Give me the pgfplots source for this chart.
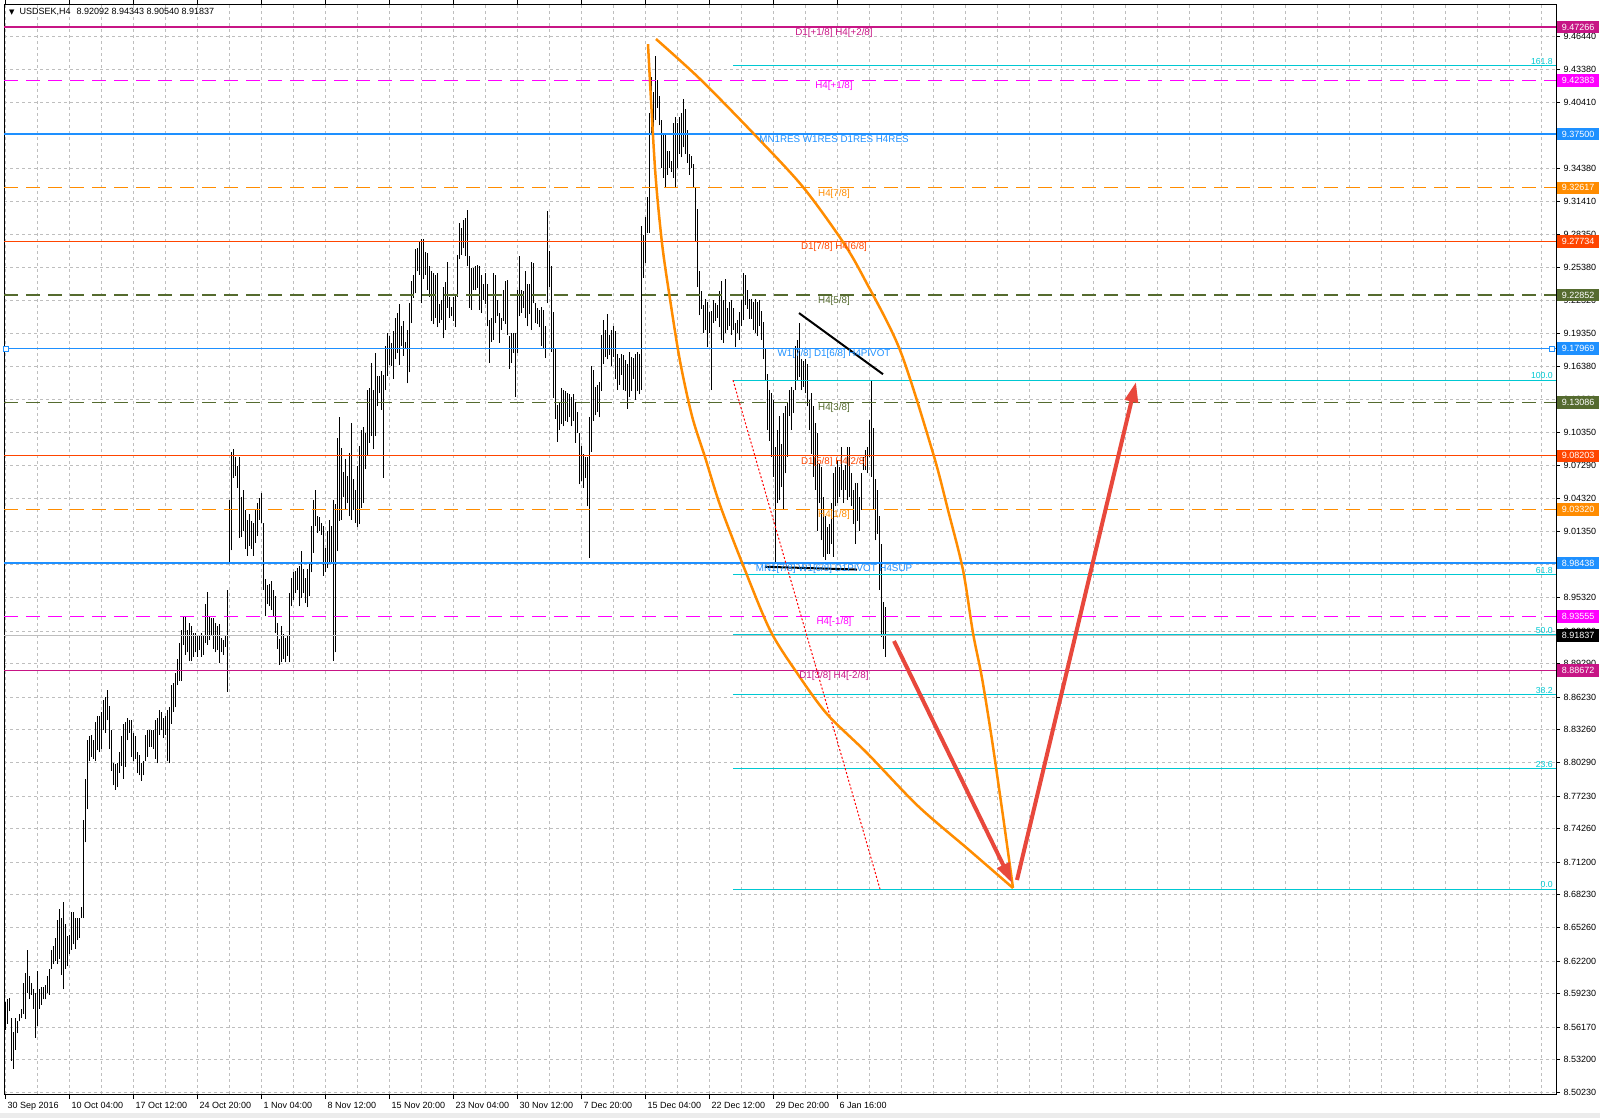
\documentclass[border=0pt]{standalone}
\usepackage{fontspec}
\setmainfont{Liberation Sans}
\newfontfamily\symfont{DejaVu Sans}
\usepackage{pgfplots}
\usepackage{pgfplotstable}
\pgfplotsset{compat=1.18}
\usetikzlibrary{arrows.meta}

\definecolor{mvred}{RGB}{199,21,133}
\definecolor{magen}{RGB}{255,0,255}
\definecolor{dblue}{RGB}{30,144,255}
\definecolor{dorange}{RGB}{255,140,0}
\definecolor{ored}{RGB}{255,69,0}
\definecolor{olivec}{RGB}{85,107,47}
\definecolor{fibc}{RGB}{0,200,210}
\definecolor{arrowred}{RGB}{232,72,60}
\definecolor{gridc}{RGB}{190,190,190}

\tikzset{
  lvl/.style={anchor=north, inner sep=1bp, font=\fontsize{9.8bp}{11bp}\selectfont},
  fibl/.style={anchor=south east, inner sep=1bp, text=fibc, font=\fontsize{8.7bp}{10bp}\selectfont},
  pbox/.style={anchor=west, xshift=1bp, inner sep=0, minimum width=42bp, minimum height=12.5bp,
    text=white, font=\fontsize{9bp}{10bp}\selectfont},
}

% H4 bars: x position (px column), low, high
\pgfplotstableread{
x lo hi
5 8.559 8.585
7 8.565 8.587
9 8.576 8.588
11 8.531 8.570
13 8.524 8.557
15 8.541 8.570
17 8.556 8.567
19 8.567 8.574
21 8.570 8.578
23 8.574 8.602
25 8.569 8.611
27 8.593 8.632
29 8.587 8.608
31 8.591 8.602
33 8.578 8.596
35 8.552 8.593
37 8.563 8.613
39 8.578 8.596
41 8.582 8.598
43 8.587 8.598
45 8.587 8.600
47 8.593 8.608
49 8.591 8.615
51 8.615 8.632
53 8.619 8.636
55 8.622 8.643
57 8.619 8.659
59 8.624 8.669
61 8.609 8.661
63 8.596 8.676
65 8.615 8.656
67 8.617 8.645
69 8.628 8.646
71 8.632 8.667
73 8.637 8.667
75 8.633 8.661
77 8.641 8.661
79 8.643 8.661
81 8.661 8.671
83 8.661 8.750
85 8.730 8.788
87 8.760 8.823
89 8.804 8.827
91 8.808 8.828
93 8.806 8.823
95 8.804 8.840
97 8.814 8.845
99 8.812 8.845
101 8.815 8.849
103 8.832 8.860
105 8.830 8.862
107 8.841 8.869
109 8.815 8.854
111 8.795 8.832
113 8.782 8.802
115 8.778 8.801
117 8.780 8.802
119 8.793 8.812
121 8.800 8.827
123 8.788 8.838
125 8.799 8.840
127 8.823 8.843
129 8.830 8.841
131 8.808 8.841
133 8.804 8.830
135 8.806 8.827
137 8.793 8.812
139 8.791 8.810
141 8.786 8.802
143 8.791 8.804
145 8.804 8.828
147 8.808 8.832
149 8.817 8.832
151 8.817 8.832
153 8.815 8.832
155 8.806 8.841
157 8.802 8.843
159 8.828 8.851
161 8.832 8.849
163 8.825 8.843
165 8.828 8.845
167 8.804 8.851
169 8.802 8.853
171 8.838 8.873
173 8.849 8.875
175 8.853 8.884
177 8.873 8.897
179 8.877 8.912
181 8.877 8.923
183 8.910 8.936
185 8.901 8.936
187 8.903 8.923
189 8.895 8.930
191 8.895 8.927
193 8.899 8.921
195 8.903 8.921
197 8.899 8.919
199 8.905 8.918
201 8.899 8.921
203 8.901 8.918
205 8.912 8.947
207 8.910 8.958
209 8.914 8.936
211 8.918 8.934
213 8.906 8.934
215 8.903 8.930
217 8.905 8.927
219 8.893 8.929
221 8.903 8.916
223 8.901 8.914
225 8.908 8.919
227 8.867 8.960
229 8.984 9.042
231 8.996 9.086
233 9.062 9.088
235 9.064 9.081
237 9.053 9.073
239 9.007 9.081
241 9.008 9.045
243 9.014 9.051
245 8.997 9.033
247 8.991 9.024
249 9.000 9.029
251 8.997 9.023
253 8.991 9.021
255 9.003 9.033
257 9.009 9.039
259 9.024 9.044
261 9.021 9.048
263 8.960 9.021
265 8.936 8.970
267 8.947 8.964
269 8.945 8.965
271 8.942 8.968
273 8.936 8.960
275 8.921 8.954
277 8.906 8.930
279 8.892 8.915
281 8.894 8.927
283 8.897 8.920
285 8.894 8.916
287 8.900 8.918
289 8.894 8.957
291 8.945 8.971
293 8.951 8.976
295 8.957 8.977
297 8.960 8.980
299 8.945 8.982
301 8.953 8.995
303 8.957 8.979
305 8.948 8.971
307 8.944 8.979
309 8.954 8.985
311 8.976 9.018
313 8.994 9.042
315 9.018 9.051
317 9.012 9.027
319 9.014 9.026
321 9.010 9.021
323 8.973 9.018
325 8.976 8.998
327 8.980 9.014
329 8.985 9.024
331 8.985 9.018
333 8.895 9.042
335 8.903 9.038
337 8.995 9.098
339 9.023 9.117
341 9.024 9.089
343 9.045 9.067
345 9.033 9.079
347 9.039 9.064
349 9.027 9.085
351 9.024 9.112
353 9.033 9.061
355 9.021 9.051
357 9.017 9.073
359 9.020 9.091
361 9.035 9.106
363 9.039 9.108
365 9.070 9.103
367 9.082 9.142
369 9.094 9.144
371 9.100 9.167
373 9.088 9.142
375 9.100 9.176
377 9.127 9.155
379 9.139 9.155
381 9.124 9.159
383 9.062 9.156
385 9.142 9.182
387 9.155 9.194
389 9.165 9.191
391 9.164 9.185
393 9.152 9.196
395 9.170 9.208
397 9.176 9.212
399 9.165 9.220
401 9.182 9.200
403 9.173 9.205
405 9.179 9.186
407 9.148 9.197
409 9.158 9.221
411 9.203 9.241
413 9.226 9.247
415 9.230 9.270
417 9.250 9.271
419 9.247 9.277
421 9.221 9.280
423 9.243 9.280
425 9.247 9.268
427 9.233 9.267
429 9.227 9.255
431 9.205 9.250
433 9.202 9.249
435 9.208 9.247
437 9.199 9.249
439 9.203 9.220
441 9.206 9.224
443 9.189 9.236
445 9.197 9.240
447 9.217 9.259
449 9.208 9.227
451 9.209 9.218
453 9.205 9.227
455 9.199 9.229
457 9.227 9.265
459 9.261 9.294
461 9.265 9.290
463 9.271 9.297
465 9.264 9.299
467 9.255 9.306
469 9.217 9.264
471 9.215 9.253
473 9.233 9.253
475 9.233 9.255
477 9.235 9.256
479 9.215 9.255
481 9.212 9.247
483 9.224 9.239
485 9.220 9.249
487 9.200 9.239
489 9.167 9.206
491 9.186 9.208
493 9.188 9.249
495 9.203 9.247
497 9.209 9.224
499 9.185 9.212
501 9.197 9.208
503 9.205 9.233
505 9.202 9.241
507 9.192 9.242
509 9.161 9.191
511 9.167 9.194
513 9.176 9.194
515 9.136 9.194
517 9.176 9.233
519 9.209 9.264
521 9.212 9.233
523 9.217 9.232
525 9.208 9.250
527 9.200 9.239
529 9.211 9.239
531 9.197 9.259
533 9.221 9.258
535 9.203 9.221
537 9.202 9.217
539 9.199 9.215
541 9.182 9.218
543 9.179 9.215
545 9.171 9.200
547 9.221 9.305
549 9.236 9.269
551 9.177 9.255
553 9.135 9.213
555 9.116 9.180
557 9.095 9.128
559 9.106 9.131
561 9.111 9.144
563 9.109 9.142
565 9.114 9.141
567 9.113 9.139
569 9.117 9.138
571 9.109 9.136
573 9.114 9.138
575 9.094 9.131
577 9.103 9.122
579 9.056 9.103
581 9.059 9.091
583 9.053 9.084
585 9.062 9.081
587 9.036 9.081
589 8.989 9.117
591 9.086 9.164
593 9.114 9.160
595 9.119 9.145
597 9.122 9.147
599 9.117 9.149
601 9.141 9.192
603 9.166 9.206
605 9.172 9.197
607 9.170 9.211
609 9.174 9.192
611 9.164 9.197
613 9.172 9.200
615 9.152 9.196
617 9.142 9.175
619 9.147 9.171
621 9.156 9.175
623 9.142 9.174
625 9.141 9.169
627 9.125 9.166
629 9.136 9.177
631 9.141 9.172
633 9.152 9.171
635 9.133 9.175
637 9.141 9.177
639 9.138 9.175
641 9.142 9.291
643 9.244 9.283
645 9.258 9.300
647 9.285 9.318
649 9.285 9.394
651 9.376 9.427
653 9.382 9.413
655 9.388 9.446
657 9.399 9.424
659 9.383 9.410
661 9.344 9.388
663 9.335 9.376
665 9.326 9.376
667 9.338 9.360
669 9.344 9.360
671 9.341 9.351
673 9.335 9.385
675 9.326 9.391
677 9.344 9.385
679 9.357 9.391
681 9.354 9.394
683 9.363 9.407
685 9.357 9.398
687 9.349 9.379
689 9.338 9.357
691 9.344 9.355
693 9.327 9.348
695 9.277 9.327
697 9.236 9.307
699 9.210 9.250
701 9.216 9.232
703 9.194 9.219
705 9.197 9.225
707 9.181 9.222
709 9.194 9.213
711 9.142 9.214
713 9.203 9.224
715 9.205 9.221
717 9.208 9.219
719 9.199 9.232
721 9.188 9.241
723 9.185 9.224
725 9.194 9.243
727 9.197 9.217
729 9.200 9.222
731 9.192 9.224
733 9.197 9.217
735 9.181 9.203
737 9.194 9.206
739 9.188 9.213
741 9.200 9.224
743 9.206 9.249
745 9.219 9.247
747 9.216 9.233
749 9.207 9.225
751 9.207 9.225
753 9.197 9.222
755 9.194 9.225
757 9.191 9.222
759 9.200 9.224
761 9.188 9.214
763 9.170 9.204
765 9.150 9.179
767 9.106 9.157
769 9.096 9.142
771 9.081 9.139
773 9.063 9.133
775 8.984 9.090
777 9.039 9.106
779 9.042 9.118
781 9.054 9.093
783 9.033 9.121
785 9.066 9.127
787 9.081 9.130
789 9.118 9.142
791 9.106 9.145
793 9.121 9.142
795 9.142 9.182
797 9.151 9.188
799 9.154 9.203
801 9.142 9.170
803 9.145 9.168
805 9.139 9.170
807 9.127 9.166
809 9.106 9.133
811 9.084 9.139
813 9.063 9.127
815 9.051 9.112
817 9.014 9.103
819 9.039 9.075
821 9.005 9.072
823 8.990 9.045
825 8.987 9.027
827 8.993 9.017
829 8.993 9.020
831 9.002 9.039
833 8.990 9.066
835 9.036 9.072
837 9.039 9.078
839 9.045 9.072
841 9.051 9.090
843 9.039 9.069
845 9.051 9.074
847 9.042 9.090
849 9.045 9.090
851 9.036 9.066
853 9.020 9.051
855 9.002 9.057
857 9.023 9.057
859 9.014 9.045
861 9.033 9.066
863 9.069 9.081
865 9.069 9.087
867 9.066 9.090
869 9.081 9.115
871 9.063 9.151
873 9.033 9.107
875 9.005 9.061
877 9.011 9.051
879 8.960 9.027
881 8.917 9.002
883 8.906 8.949
885 8.899 8.944
}\bars

\begin{document}
\begin{tikzpicture}
\begin{axis}[
  scale only axis, width=1552bp, height=1090bp,
  xmin=4, xmax=1556, ymin=8.5008, ymax=9.4936,
  axis line style={black, line width=1bp},
  xtick={5,37,...,1541}, xticklabels={},
  xtick style={draw=none},
  ytick={9.4644,9.4338,9.4041,9.3744,9.3438,9.3141,9.2835,9.2538,9.2232,9.1935,9.1638,9.1332,9.1035,9.0729,9.0432,9.0135,8.9829,8.9532,8.9226,8.8929,8.8623,8.8326,8.8029,8.7723,8.7426,8.7120,8.6823,8.6526,8.6220,8.5923,8.5617,8.5320,8.5023},
  yticklabels={9.46440,9.43380,9.40410,9.37440,9.34380,9.31410,9.28350,9.25380,9.22320,9.19350,9.16380,9.13320,9.10350,9.07290,9.04320,9.01350,8.98290,8.95320,8.92260,8.89290,8.86230,8.83260,8.80290,8.77230,8.74260,8.71200,8.68230,8.65260,8.62200,8.59230,8.56170,8.53200,8.50230},
  ytick pos=right, yticklabel pos=right,
  ytick style={black, line width=0.8bp},
  major tick length=4bp, tick align=outside,
  grid=major,
  grid style={gridc, dash pattern=on 3bp off 3bp, line width=0.8bp},
  tick label style={font=\fontsize{9bp}{10bp}\selectfont},
  extra x ticks={5,69,...,837},
  extra x tick labels={30 Sep 2016,10 Oct 04:00,17 Oct 12:00,24 Oct 20:00,1 Nov 04:00,8 Nov 12:00,15 Nov 20:00,23 Nov 04:00,30 Nov 12:00,7 Dec 20:00,15 Dec 04:00,22 Dec 12:00,29 Dec 20:00,6 Jan 16:00},
  extra x tick style={grid=none, xtick style={draw=black, line width=0.8bp}, major tick length=5bp,
    xticklabel style={anchor=north west, xshift=-1bp}},
]
\coordinate (SW) at (rel axis cs:0,0);

% price bars
\addplot[draw=none, mark=none, forget plot,
  error bars/.cd, y dir=plus, y explicit, error mark=none,
  error bar style={draw=black, solid, line width=0.95bp}]
  table[x=x, y=lo, y error plus expr=\thisrow{hi}-\thisrow{lo}] {\bars};

% Murrey levels
\addplot[mvred, line width=1.2bp] coordinates {(4,9.47266) (1556,9.47266)};
\addplot[magen, line width=1.2bp, dash pattern=on 14bp off 8bp] coordinates {(4,9.42383) (1556,9.42383)};
\addplot[dblue, line width=2.2bp] coordinates {(4,9.37500) (1556,9.37500)};
\addplot[dorange, line width=1.2bp, dash pattern=on 14bp off 8bp] coordinates {(4,9.32617) (1556,9.32617)};
\addplot[ored, line width=1.2bp] coordinates {(4,9.27734) (1556,9.27734)};
\addplot[olivec, line width=1.2bp, dash pattern=on 14bp off 8bp] coordinates {(4,9.22852) (1556,9.22852)};
\addplot[dblue, line width=1.1bp] coordinates {(4,9.17969) (1556,9.17969)};
\addplot[olivec, line width=1.2bp, dash pattern=on 14bp off 8bp] coordinates {(4,9.13086) (1556,9.13086)};
\addplot[ored, line width=1.2bp] coordinates {(4,9.08203) (1556,9.08203)};
\addplot[dorange, line width=1.2bp, dash pattern=on 14bp off 8bp] coordinates {(4,9.03320) (1556,9.03320)};
\addplot[dblue, line width=2.2bp] coordinates {(4,8.98438) (1556,8.98438)};
\addplot[magen, line width=1.2bp, dash pattern=on 14bp off 8bp] coordinates {(4,8.93555) (1556,8.93555)};
\addplot[gridc, line width=1.2bp] coordinates {(4,8.91837) (1556,8.91837)};
\addplot[mvred, line width=1.2bp] coordinates {(4,8.88672) (1556,8.88672)};
\addplot[only marks, mark=square*, mark size=2.5bp, mark options={fill=white, draw=dblue, line width=0.8bp}]
  coordinates {(6,9.17969) (1552,9.17969)};

% Fibonacci levels
\addplot[fibc, line width=1bp] coordinates {(733,9.4374) (1556,9.4374)};
\addplot[fibc, line width=1bp] coordinates {(733,9.1510) (1556,9.1510)};
\addplot[fibc, line width=1bp] coordinates {(733,8.9740) (1556,8.9740)};
\addplot[fibc, line width=1bp] coordinates {(733,8.9192) (1556,8.9192)};
\addplot[fibc, line width=1bp] coordinates {(733,8.8646) (1556,8.8646)};
\addplot[fibc, line width=1bp] coordinates {(733,8.7969) (1556,8.7969)};
\addplot[fibc, line width=1bp] coordinates {(733,8.6875) (1556,8.6875)};
\addplot[red, line width=1bp, dash pattern=on 2bp off 2bp] coordinates {(733,9.1510) (880,8.6875)};

% arcs
\addplot[dorange, line width=2.5bp, smooth] coordinates {
  (648,9.4571) (655,9.3442) (662,9.2759) (670,9.2249) (680,9.1684) (692,9.1183)
  (705,9.0810) (720,9.0373) (743,8.9826) (770,8.9234) (797,8.8843) (827,8.8469)
  (867,8.8114) (918,8.7631) (969,8.7231) (1013,8.6884)};
\addplot[dorange, line width=2.5bp, smooth] coordinates {
  (656,9.4617) (700,9.4253) (755,9.3742) (803,9.3269) (843,9.2768) (865,9.2422)
  (900,9.1784) (933,9.0846) (948,9.0327) (963,8.9781) (973,8.9207) (982,8.8797)
  (992,8.8232) (1003,8.7540) (1013,8.6884)};

% trend lines
\addplot[black, line width=2bp] coordinates {(799,9.2121) (883,9.1564)};
\addplot[black, line width=2bp] coordinates {(765,8.9810) (857,8.9785)};

% arrows
\addplot[arrowred, line width=4bp, -{Triangle[length=20bp,width=13bp]}] coordinates {(894,8.9134) (1012,8.6930)};
\addplot[arrowred, line width=4bp, -{Triangle[length=20bp,width=13bp]}] coordinates {(1017,8.6957) (1136,9.1493)};

% level texts
\node[lvl, text=mvred] at (axis cs:834,9.47266) {D1[+1/8] H4[+2/8]};
\node[lvl, text=magen] at (axis cs:834,9.42383) {H4[+1/8]};
\node[lvl, text=dblue] at (axis cs:834,9.37500) {MN1RES W1RES D1RES H4RES};
\node[lvl, text=dorange] at (axis cs:834,9.32617) {H4[7/8]};
\node[lvl, text=ored] at (axis cs:834,9.27734) {D1[7/8] H4[6/8]};
\node[lvl, text=olivec] at (axis cs:834,9.22852) {H4[5/8]};
\node[lvl, text=dblue] at (axis cs:834,9.17969) {W1[7/8] D1[6/8] H4PIVOT};
\node[lvl, text=olivec] at (axis cs:834,9.13086) {H4[3/8]};
\node[lvl, text=ored] at (axis cs:834,9.08203) {D1[5/8] H4[2/8]};
\node[lvl, text=dorange] at (axis cs:834,9.03320) {H4[1/8]};
\node[lvl, text=dblue] at (axis cs:834,8.98438) {MN1[7/8] W1[6/8] D1PIVOT H4SUP};
\node[lvl, text=magen] at (axis cs:834,8.93555) {H4[-1/8]};
\node[lvl, text=mvred] at (axis cs:834,8.88672) {D1[3/8] H4[-2/8]};

\node[fibl] at (axis cs:1554,9.4374) {161.8};
\node[fibl] at (axis cs:1554,9.1510) {100.0};
\node[fibl] at (axis cs:1554,8.9740) {61.8};
\node[fibl] at (axis cs:1554,8.9192) {50.0};
\node[fibl] at (axis cs:1554,8.8646) {38.2};
\node[fibl] at (axis cs:1554,8.7969) {23.6};
\node[fibl] at (axis cs:1554,8.6875) {0.0};

\node[anchor=west, inner sep=0, font=\fontsize{9bp}{10bp}\selectfont] at (axis cs:9,9.4863)
  {{\symfont\fontsize{7bp}{8bp}\selectfont ▼}\hspace{5bp}USDSEK,H4\hspace{6bp}8.92092 8.94343 8.90540 8.91837};

% right-hand price box anchors
\coordinate (b1) at (axis cs:1556,9.47266);
\coordinate (b2) at (axis cs:1556,9.42383);
\coordinate (b3) at (axis cs:1556,9.37500);
\coordinate (b4) at (axis cs:1556,9.32617);
\coordinate (b5) at (axis cs:1556,9.27734);
\coordinate (b6) at (axis cs:1556,9.22852);
\coordinate (b7) at (axis cs:1556,9.17969);
\coordinate (b8) at (axis cs:1556,9.13086);
\coordinate (b9) at (axis cs:1556,9.08203);
\coordinate (b10) at (axis cs:1556,9.03320);
\coordinate (b11) at (axis cs:1556,8.98438);
\coordinate (b12) at (axis cs:1556,8.93555);
\coordinate (b13) at (axis cs:1556,8.91837);
\coordinate (b14) at (axis cs:1556,8.88672);
\end{axis}

\node[pbox, fill=mvred] at (b1) {9.47266};
\node[pbox, fill=magen] at (b2) {9.42383};
\node[pbox, fill=dblue] at (b3) {9.37500};
\node[pbox, fill=dorange] at (b4) {9.32617};
\node[pbox, fill=ored] at (b5) {9.27734};
\node[pbox, fill=olivec] at (b6) {9.22852};
\node[pbox, fill=dblue] at (b7) {9.17969};
\node[pbox, fill=olivec] at (b8) {9.13086};
\node[pbox, fill=ored] at (b9) {9.08203};
\node[pbox, fill=dorange] at (b10) {9.03320};
\node[pbox, fill=dblue] at (b11) {8.98438};
\node[pbox, fill=magen] at (b12) {8.93555};
\node[pbox, fill=black] at (b13) {8.91837};
\node[pbox, fill=mvred] at (b14) {8.88672};

\fill[gray!15] ([shift={(-4bp,-24bp)}]SW) rectangle ++(1600bp,5bp);
\pgfresetboundingbox
\path[use as bounding box] ([shift={(-4bp,-24bp)}]SW) rectangle ++(1600bp,1118bp);
\end{tikzpicture}
\end{document}
